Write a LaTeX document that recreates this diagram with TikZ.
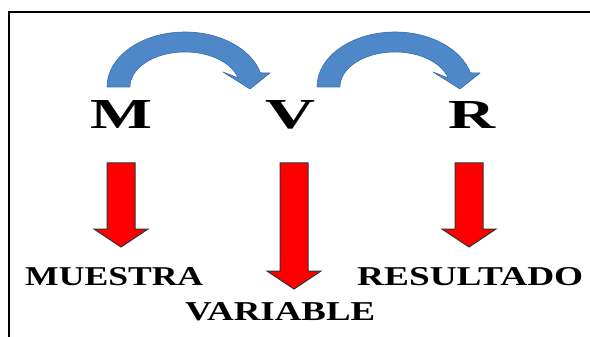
\documentclass[tikz,border=0pt]{standalone}
\usepackage{fontspec}
\setmainfont{Liberation Serif}
\usepackage{graphicx}
\definecolor{arcblue}{RGB}{79,136,200}
\definecolor{arcedge}{RGB}{58,108,168}
\definecolor{arrowred}{RGB}{255,0,0}
\tikzset{
  lbl/.style={inner sep=0pt, anchor=north west},
  frameline/.style={line width=2pt, black},
  % thick red block arrow, tip at the origin, #1 = total length
  pics/downarrow/.style={code={
    \filldraw[fill=arrowred, draw=black!80, line width=1pt, line join=miter]
      (0,0) -- (-27,-18) -- (-14,-18) -- (-14,-#1) -- (14,-#1)
      -- (14,-18) -- (27,-18) -- cycle;
  }},
  % curved blue arrow, origin at the centre of its arc
  pics/curvearrow/.style={code={
    \filldraw[fill=arcblue, draw=arcedge, line width=0.6pt, line join=round]
      (-78,0) arc[start angle=180, end angle=345, x radius=78, y radius=55]
      -- (85,-14) -- (65,2) -- (38,-15)
      -- (53.1,-9.1) arc[start angle=345, end angle=180, x radius=55, y radius=35]
      -- cycle;
  }}
}
\begin{document}
\begin{tikzpicture}[x=1pt, y=-1pt]
  \useasboundingbox (0,0) rectangle (590,337);
  \fill[white] (0,0) rectangle (590,337);

  % frame
  \draw[frameline] (9,337) -- (9,12.5) -- (590,12.5);

  % letters
  \node[lbl] (M) at (90,100) {\resizebox{62pt}{28pt}{\bfseries M}};
  \node[lbl] (V) at (265,100) {\resizebox{50pt}{28pt}{\bfseries V}};
  \node[lbl] (R) at (448,101) {\resizebox{47pt}{27pt}{\bfseries R}};

  % labels
  \node[lbl] (muestra) at (25,267) {\resizebox{178pt}{18pt}{\bfseries MUESTRA}};
  \node[lbl] (variable) at (185,302) {\resizebox{190pt}{18pt}{\bfseries VARIABLE}};
  \node[lbl] (resultado) at (357,267) {\resizebox{226pt}{18pt}{\bfseries RESULTADO}};

  % curved arrows M -> V -> R
  \coordinate (arcMV) at (185,87);
  \coordinate (arcVR) at (395,87);
  \pic at (arcMV) {curvearrow};
  \pic at (arcVR) {curvearrow};

  % down arrows
  \coordinate (tipM) at (121,247);
  \coordinate (tipV) at (294,289);
  \coordinate (tipR) at (469,247);
  \pic at (tipM) {downarrow=84};
  \pic at (tipV) {downarrow=126};
  \pic at (tipR) {downarrow=84};
\end{tikzpicture}
\end{document}
